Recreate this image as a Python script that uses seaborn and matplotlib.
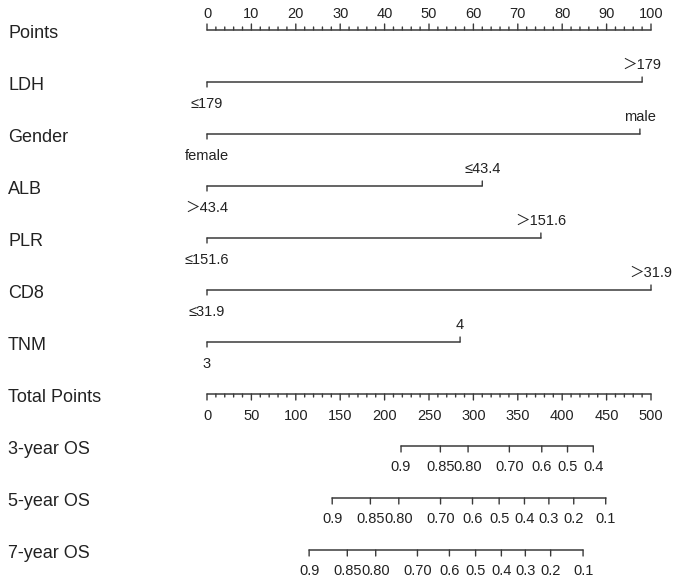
import pandas as pd
import seaborn as sns
from matplotlib import pyplot as plt

ROW_NAMES = ["Points", "LDH", "Gender", "ALB", "PLR", "CD8", "TNM",
             "Total Points", "3-year OS", "5-year OS", "7-year OS"]

VARIABLES = ["LDH", "Gender", "ALB", "PLR", "CD8", "TNM"]
VAR_MAX_POINTS = [98, 97.5, 62, 75.2, 100, 57]
LOW_LABELS = ["≤179", "female", "＞43.4", "≤151.6", "≤31.9", "3"]
HIGH_LABELS = ["＞179", "male", "≤43.4", "＞151.6", "＞31.9", "4"]

POINTS_TICKS = list(range(0, 101, 10))
TOTAL_TICKS = list(range(0, 501, 50))

OS_LABELS = ["0.9", "0.85", "0.80", "0.70", "0.6", "0.5", "0.4", "0.3", "0.2", "0.1"]
OS_3Y_TOTAL = [218.5, 262.8, 294, 340.5, 377, 406, 435]
OS_5Y_TOTAL = [141, 184, 216, 263, 299, 329, 357.5, 385, 413, 449]
OS_7Y_TOTAL = [115, 158, 190, 237, 273, 302.5, 331.5, 358.5, 387, 423.5]

# layout (pixels of the 685x585 canvas)
ROW_PX = 52
TOP_PX = 30
X0_PX, X100_PX = 207, 651
PX_PER_PT = 100 / 72
LINE_COLOR = "#3a3a3a"
TEXT_COLOR = "#222222"
FAMILY = ["Liberation Sans", "Noto Sans CJK SC", "DejaVu Sans"]

sns.set_theme(style="white")
plt.rcParams["font.family"] = FAMILY

fig = plt.figure(figsize=(6.85, 5.85), dpi=100)
ax = fig.add_axes([0, 0, 1, 1])

scale = (X100_PX - X0_PX) / 100


def off(px):
    return px / PX_PER_PT


def tick(x, row, length_px, up):
    ax.annotate("", xy=(x, row), xytext=(0, off(length_px) * (1 if up else -1)),
                textcoords="offset points",
                arrowprops=dict(arrowstyle="-", color=LINE_COLOR, lw=1,
                                shrinkA=0, shrinkB=0))


def label(x, row, text, dy_px, size=10.5):
    ax.annotate(text, xy=(x, row), xytext=(0, off(dy_px)), textcoords="offset points",
                ha="center", va="center", fontsize=size, color=TEXT_COLOR)


# horizontal axis lines drawn through seaborn
segments = []
segments += [{"row": 0, "x": 0}, {"row": 0, "x": 100}]
for i, pts in enumerate(VAR_MAX_POINTS):
    segments += [{"row": i + 1, "x": 0}, {"row": i + 1, "x": pts}]
segments += [{"row": 7, "x": 0}, {"row": 7, "x": 100}]
for r, totals in zip([8, 9, 10], [OS_3Y_TOTAL, OS_5Y_TOTAL, OS_7Y_TOTAL]):
    segments += [{"row": r, "x": min(totals) / 5}, {"row": r, "x": max(totals) / 5}]
seg_df = pd.DataFrame(segments)
seg_df["y"] = seg_df["row"]
sns.lineplot(data=seg_df, x="x", y="y", units="row", estimator=None,
             color=LINE_COLOR, lw=1.1, ax=ax, legend=False, sort=False)
ax.set_xlim(-X0_PX / scale, (685 - X0_PX) / scale)
ax.set_ylim((585 - TOP_PX) / ROW_PX, -TOP_PX / ROW_PX)
ax.set_axis_off()

# row names
for r, name in enumerate(ROW_NAMES):
    ax.annotate(name, xy=(-X0_PX / scale, r), xytext=(off(8), off(-3)),
                textcoords="offset points", ha="left", va="center",
                fontsize=13, color=TEXT_COLOR)

# Points scale
for v in range(0, 101, 2):
    tick(v, 0, 6 if v % 10 == 0 else 3, True)
for v in POINTS_TICKS:
    label(v, 0, str(v), 16)

# variables
for i, pts in enumerate(VAR_MAX_POINTS):
    r = i + 1
    tick(0, r, 5, False)
    tick(pts, r, 5, True)
    label(0, r, LOW_LABELS[i], -22)
    label(pts, r, HIGH_LABELS[i], 17)

# Total points scale
for v in range(0, 501, 10):
    tick(v / 5, 7, 6 if v % 50 == 0 else 3, False)
for v in TOTAL_TICKS:
    label(v / 5, 7, str(v), -22)

# survival scales
for r, totals in zip([8, 9, 10], [OS_3Y_TOTAL, OS_5Y_TOTAL, OS_7Y_TOTAL]):
    for t, text in zip(totals, OS_LABELS):
        tick(t / 5, r, 6, False)
        label(t / 5, r, text, -21)

fig.savefig("out.png", dpi=100, facecolor="white")
